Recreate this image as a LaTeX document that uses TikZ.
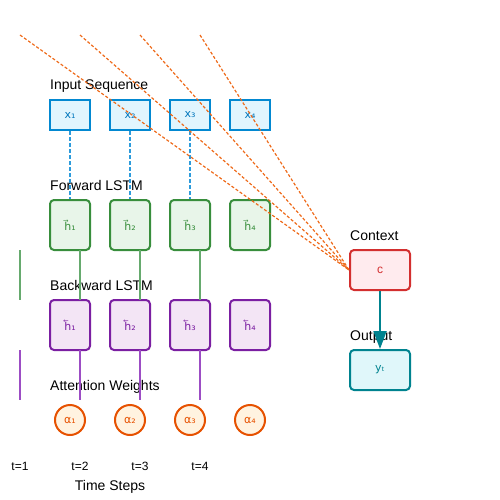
\documentclass[tikz,border=0pt]{standalone}
\usepackage{fontspec}
\setmainfont{Liberation Sans}
\newfontfamily\boxfont{DejaVu Sans}
\usetikzlibrary{arrows.meta}
\definecolor{inline}{HTML}{0288D1}
\definecolor{infill}{HTML}{E1F5FE}
\definecolor{intext}{HTML}{0277BD}
\definecolor{indash}{HTML}{2D9BDB}
\definecolor{fwline}{HTML}{388E3C}
\definecolor{fwfill}{HTML}{E8F5E9}
\definecolor{fwlink}{HTML}{66AA6E}
\definecolor{bwline}{HTML}{7B1FA2}
\definecolor{bwfill}{HTML}{F3E5F5}
\definecolor{bwlink}{HTML}{9C4DC4}
\definecolor{atline}{HTML}{E65100}
\definecolor{atfill}{HTML}{FFF3E0}
\definecolor{atdash}{HTML}{EE6A1A}
\definecolor{cxline}{HTML}{D32F2F}
\definecolor{cxfill}{HTML}{FFEBEE}
\definecolor{outline}{HTML}{00838F}
\definecolor{outfill}{HTML}{E0F7FA}
\begin{document}
\begin{tikzpicture}[x=1pt,y=-1pt,
    every node/.style={font=\fontsize{12}{14}\selectfont},
    lbl/.style={anchor=base west,inner sep=0pt,font=\fontsize{14}{16}\selectfont},
    inbox/.style={draw=inline,fill=infill,text=intext,line width=2pt,minimum width=40pt,minimum height=30pt,inner sep=0pt,font=\boxfont\fontsize{11}{13}\selectfont},
    fwbox/.style={draw=fwline,fill=fwfill,text=fwline,line width=2pt,rounded corners=4pt,minimum width=40pt,minimum height=50pt,inner sep=0pt,font=\boxfont\fontsize{11}{13}\selectfont},
    bwbox/.style={draw=bwline,fill=bwfill,text=bwline,line width=2pt,rounded corners=4pt,minimum width=40pt,minimum height=50pt,inner sep=0pt,font=\boxfont\fontsize{11}{13}\selectfont},
    atnode/.style={circle,draw=atline,fill=atfill,text=atline,line width=2pt,minimum size=30pt,inner sep=0pt,font=\boxfont\fontsize{11}{13}\selectfont}]
    \useasboundingbox (0,0) rectangle (500,500);

    % layer labels
    \node[lbl] (lin) at (50,90) {Input Sequence};
    \node[lbl] (lfw) at (50,190) {Forward LSTM};
    \node[lbl] (lbw) at (50,290) {Backward LSTM};
    \node[lbl] (lat) at (50,390) {Attention Weights};
    \node[lbl] (lcx) at (350,240) {Context};
    \node[lbl] (lout) at (350,340) {Output};

    % columns
    \foreach \i/\s in {1/₁,2/₂,3/₃,4/₄} {
        \node[inbox] (in\i) at (10+60*\i,115) {x\s};
        \node[fwbox] (fw\i) at (10+60*\i,225) {h⃗\s};
        \node[bwbox] (bw\i) at (10+60*\i,325) {h⃖\s};
        \node[atnode] (at\i) at (10+60*\i,420) {α\s};
        \node[anchor=base] (t\i) at (-40+60*\i,470) {t=\i};
        \coordinate (gt\i) at (-40+60*\i,250);
        \coordinate (gb\i) at (-40+60*\i,300);
        \coordinate (pt\i) at (-40+60*\i,350);
        \coordinate (pb\i) at (-40+60*\i,400);
        \coordinate (s\i) at (-40+60*\i,35);
        \draw[fwlink,line width=1.5pt] (gt\i)--(gb\i);
        \draw[bwlink,line width=1.5pt] (pt\i)--(pb\i);
    }
    \node[font=\fontsize{14}{16}\selectfont,anchor=base] (tsteps) at (110,490) {Time Steps};

    \foreach \i in {1,2,3}
        \draw[indash,line width=1.5pt,dash pattern=on 4pt off 2pt] (in\i.south)--(fw\i.north);

    \node[draw=cxline,fill=cxfill,text=cxline,line width=2pt,rounded corners=4pt,minimum width=60pt,minimum height=40pt] (ctx) at (380,270) {c};
    \node[draw=outline,fill=outfill,text=outline,line width=2pt,rounded corners=4pt,minimum width=60pt,minimum height=40pt,font=\boxfont\fontsize{11}{13}\selectfont] (out) at (380,370) {yₜ};
    \draw[outline,line width=2pt,-{Triangle[length=18pt,width=13pt]}] (ctx.south)--(out.north);

    \foreach \i in {1,...,4}
        \draw[atdash,line width=1.2pt,dash pattern=on 3pt off 2pt] (s\i)--(ctx.west);
\end{tikzpicture}
\end{document}
